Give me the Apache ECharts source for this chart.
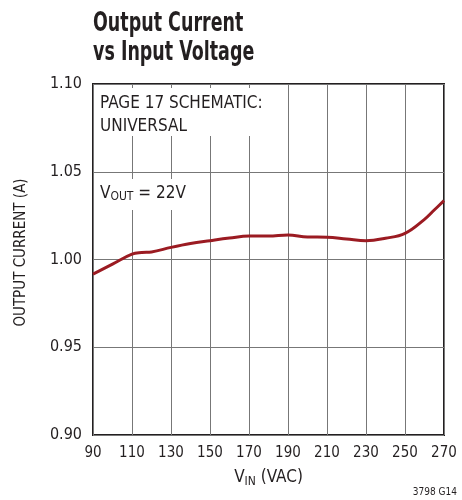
<!DOCTYPE html>
<html>
<head>
<meta charset="utf-8">
<script src="https://cdn.jsdelivr.net/npm/echarts@6/dist/echarts.min.js"></script>
<style>
  html, body { margin: 0; padding: 0; background: #fff; }
  #main { width: 462px; height: 500px; }
</style>
</head>
<body>
<div id="main"></div>
<script>
// data
const vin = [90, 100, 110, 115, 120, 130, 140, 150, 160, 170, 180, 190, 200, 210, 220, 230, 240, 250, 260, 265, 270];
const current = [0.9917, 0.9974, 1.0031, 1.0040, 1.0043, 1.0069, 1.0091, 1.0107, 1.0122, 1.0134, 1.0134, 1.0140,
    1.0128, 1.0127, 1.0117, 1.0107, 1.0121, 1.0149, 1.0229, 1.0282, 1.0335];

const font = '"DejaVu Sans Condensed", "Liberation Sans", sans-serif';
const ink = '#231f20';

let myChart = echarts.init(document.getElementById('main'));

const option = {
    backgroundColor: '#fff',
    animation: false,
    grid: {
        left: 93,
        top: 84,
        right: 18,
        bottom: 65,
        show: true,
        borderColor: ink,
        borderWidth: 2,
        backgroundColor: 'transparent'
    },
    xAxis: {
        type: 'value',
        min: 90,
        max: 270,
        interval: 20,
        name: '{v|V}{s|IN}{v| (VAC)}',
        nameLocation: 'middle',
        nameGap: 33,
        nameTextStyle: {
            rich: {
                v: { fontFamily: font, fontSize: 17, color: ink },
                s: { fontFamily: font, fontSize: 12, color: ink, verticalAlign: 'bottom', padding: [8, 0, 0, 0] }
            }
        },
        axisLine: { show: false },
        axisTick: { show: false },
        axisLabel: {
            margin: 11,
            fontFamily: font,
            fontSize: 15,
            color: ink
        },
        splitLine: { lineStyle: { color: '#777', width: 1 } }
    },
    yAxis: {
        type: 'value',
        min: 0.9,
        max: 1.1,
        interval: 0.05,
        name: 'OUTPUT CURRENT (A)',
        nameLocation: 'middle',
        nameGap: 64,
        nameTextStyle: {
            fontFamily: font,
            fontSize: 15,
            color: ink,
            padding: [0, 0, 0, 14]
        },
        axisLine: { show: false },
        axisTick: { show: false },
        axisLabel: {
            margin: 11,
            fontFamily: font,
            fontSize: 16,
            color: ink,
            formatter: v => v.toFixed(2)
        },
        splitLine: { lineStyle: { color: '#777', width: 1 } }
    },
    graphic: [
        {
            type: 'text',
            x: 93,
            y: 9,
            scaleX: 0.72,
            style: {
                text: 'Output Current\nvs Input Voltage',
                font: 'bold 27px ' + font,
                lineHeight: 29,
                fill: ink
            }
        },
        {
            type: 'rect',
            shape: { x: 96, y: 88, width: 174, height: 48 },
            style: { fill: '#fff' },
            z: 5
        },
        {
            type: 'text',
            left: 100,
            top: 92,
            style: {
                text: 'PAGE 17 SCHEMATIC:\nUNIVERSAL',
                font: '17px ' + font,
                lineHeight: 23,
                fill: ink
            },
            z: 6
        },
        {
            type: 'rect',
            shape: { x: 96, y: 179, width: 104, height: 31 },
            style: { fill: '#fff' },
            z: 5
        },
        {
            type: 'text',
            left: 100,
            top: 185,
            style: {
                text: '{v|V}{s|OUT}{v| = 22V}',
                rich: {
                    v: { fontFamily: font, fontSize: 17, fill: ink },
                    s: { fontFamily: font, fontSize: 12, fill: ink, verticalAlign: 'bottom', padding: [7, 0, 0, 0] }
                }
            },
            z: 6
        },
        {
            type: 'text',
            right: 5,
            top: 487,
            style: {
                text: '3798 G14',
                font: '10px ' + font,
                fill: ink
            }
        }
    ],
    series: [
        {
            type: 'line',
            data: vin.map((v, i) => [v, current[i]]),
            smooth: 0.4,
            showSymbol: false,
            lineStyle: { color: '#9b1b22', width: 3 },
            z: 10
        }
    ]
};

myChart.setOption(option);
</script>
</body>
</html>
